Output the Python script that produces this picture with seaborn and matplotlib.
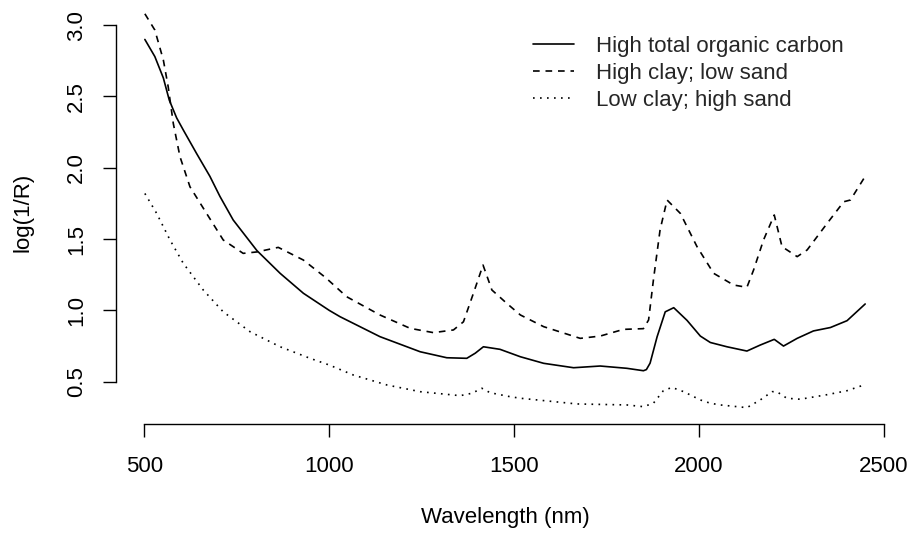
import matplotlib
matplotlib.use("Agg")
import matplotlib.pyplot as plt
import seaborn as sns

# Soil spectra, log(1/R) against wavelength (nm), for three contrasting samples
wl_toc = [501, 528, 551, 567, 587, 605, 641, 677, 704, 740, 804, 867, 930, 1000,
          1029, 1137, 1246, 1318, 1372, 1395, 1417, 1462, 1517, 1580, 1661, 1733,
          1805, 1850, 1858, 1868, 1887, 1909, 1932, 1968, 2004, 2031, 2076, 2130,
          2166, 2204, 2229, 2266, 2310, 2356, 2401, 2450]
val_toc = [2.90, 2.78, 2.63, 2.475, 2.35, 2.265, 2.10, 1.94, 1.80, 1.634, 1.42, 1.26,
           1.12, 1.00, 0.956, 0.816, 0.71, 0.668, 0.664, 0.70, 0.745, 0.727, 0.675,
           0.629, 0.598, 0.61, 0.594, 0.577, 0.585, 0.63, 0.815, 0.99, 1.019, 0.93,
           0.82, 0.775, 0.745, 0.715, 0.757, 0.797, 0.75, 0.804, 0.856, 0.88, 0.928,
           1.045]

wl_clay = [501, 528, 551, 564, 578, 596, 623, 668, 713, 767, 804, 862, 930, 990,
           1047, 1137, 1219, 1282, 1336, 1363, 1390, 1416, 1440, 1480, 1517, 1580,
           1679, 1733, 1796, 1850, 1864, 1877, 1895, 1914, 1950, 1995, 2040, 2094,
           2130, 2148, 2175, 2204, 2225, 2266, 2293, 2347, 2392, 2410, 2450]
val_clay = [3.08, 2.966, 2.756, 2.57, 2.31, 2.078, 1.867, 1.68, 1.494, 1.40, 1.41,
            1.442, 1.353, 1.23, 1.096, 0.968, 0.874, 0.844, 0.863, 0.92, 1.12, 1.318,
            1.143, 1.05, 0.968, 0.886, 0.804, 0.82, 0.867, 0.872, 0.933, 1.213, 1.564,
            1.774, 1.68, 1.447, 1.26, 1.178, 1.162, 1.283, 1.494, 1.669, 1.447, 1.377,
            1.424, 1.61, 1.762, 1.774, 1.94]

wl_sand = [501, 533, 569, 605, 659, 713, 786, 867, 948, 1000, 1065, 1156, 1246,
           1354, 1386, 1413, 1435, 1489, 1517, 1670, 1805, 1850, 1877, 1904, 1927,
           1959, 2004, 2031, 2058, 2130, 2166, 2198, 2211, 2238, 2274, 2347, 2401,
           2450]
val_sand = [1.82, 1.68, 1.494, 1.33, 1.143, 0.99, 0.85, 0.745, 0.664, 0.617, 0.547,
            0.477, 0.43, 0.402, 0.419, 0.454, 0.423, 0.395, 0.384, 0.344, 0.337,
            0.325, 0.349, 0.437, 0.46, 0.43, 0.372, 0.349, 0.337, 0.318, 0.372, 0.43,
            0.43, 0.384, 0.377, 0.409, 0.437, 0.48]

series_labels = ["High total organic carbon", "High clay; low sand", "Low clay; high sand"]
x_ticks = [500, 1000, 1500, 2000, 2500]
y_ticks = [0.5, 1.0, 1.5, 2.0, 2.5, 3.0]

sns.set_theme(style="white")
plt.rcParams["font.family"] = ["Liberation Sans", "DejaVu Sans"]
FS = 16

W, H = 912, 533
fig = plt.figure(figsize=(W / 100, H / 100), dpi=100)
# plot region in pixel terms: left 116, right 894, bottom 424, top 0
ax = fig.add_axes([116 / W, 1 - 424 / H, (894 - 116) / W, 424 / H])

lw = 1.2
sns.lineplot(x=wl_toc, y=val_toc, ax=ax, color="black", lw=lw,
             linestyle="-", label=series_labels[0], estimator=None)
sns.lineplot(x=wl_clay, y=val_clay, ax=ax, color="black", lw=lw,
             linestyle=(0, (4, 3.5)), label=series_labels[1], estimator=None)
sns.lineplot(x=wl_sand, y=val_sand, ax=ax, color="black", lw=lw,
             linestyle=(0, (1, 3.2)), label=series_labels[2], estimator=None)

ax.set_xlim(422.9, 2528)
ax.set_ylim(0.2034, 3.1767)

for side in ("top", "right"):
    ax.spines[side].set_visible(False)
for side in ("left", "bottom"):
    ax.spines[side].set_color("black")
    ax.spines[side].set_linewidth(1.0)
ax.spines["bottom"].set_bounds(500, 2500)
ax.spines["left"].set_bounds(0.5, 3.0)

ax.set_xticks(x_ticks)
ax.set_xticklabels([str(t) for t in x_ticks])
ax.set_yticks(y_ticks)
ax.set_yticklabels([f"{t:.1f}" for t in y_ticks])
ax.tick_params(axis="both", direction="out", length=9.7, width=1.0, color="black",
               labelsize=FS, labelcolor="black", bottom=True, left=True)
ax.tick_params(axis="x", pad=13)
ax.tick_params(axis="y", pad=11)
for lab in ax.get_yticklabels():
    lab.set_rotation(90)
    lab.set_va("center")
    lab.set_ha("right")

ax.set_xlabel("Wavelength (nm)", fontsize=FS, color="black")
ax.xaxis.set_label_coords(0.5, (424 - 518) / 424)
ax.xaxis.label.set_va("center")
ax.set_ylabel("log(1/R)", fontsize=FS, color="black")
ax.yaxis.set_label_coords((23 - 116) / (894 - 116), 0.5)
ax.yaxis.label.set_va("center")

handles, labels = ax.get_legend_handles_labels()
ax.legend(handles, labels, loc="upper left", frameon=False, fontsize=FS,
          bbox_to_anchor=(533 / W, 1 - 36 / H), bbox_transform=fig.transFigure,
          borderpad=0, borderaxespad=0, handlelength=41 / 22.2, handletextpad=22 / 22.2,
          labelspacing=0.27)

fig.savefig("out.png", dpi=100, facecolor="white")
